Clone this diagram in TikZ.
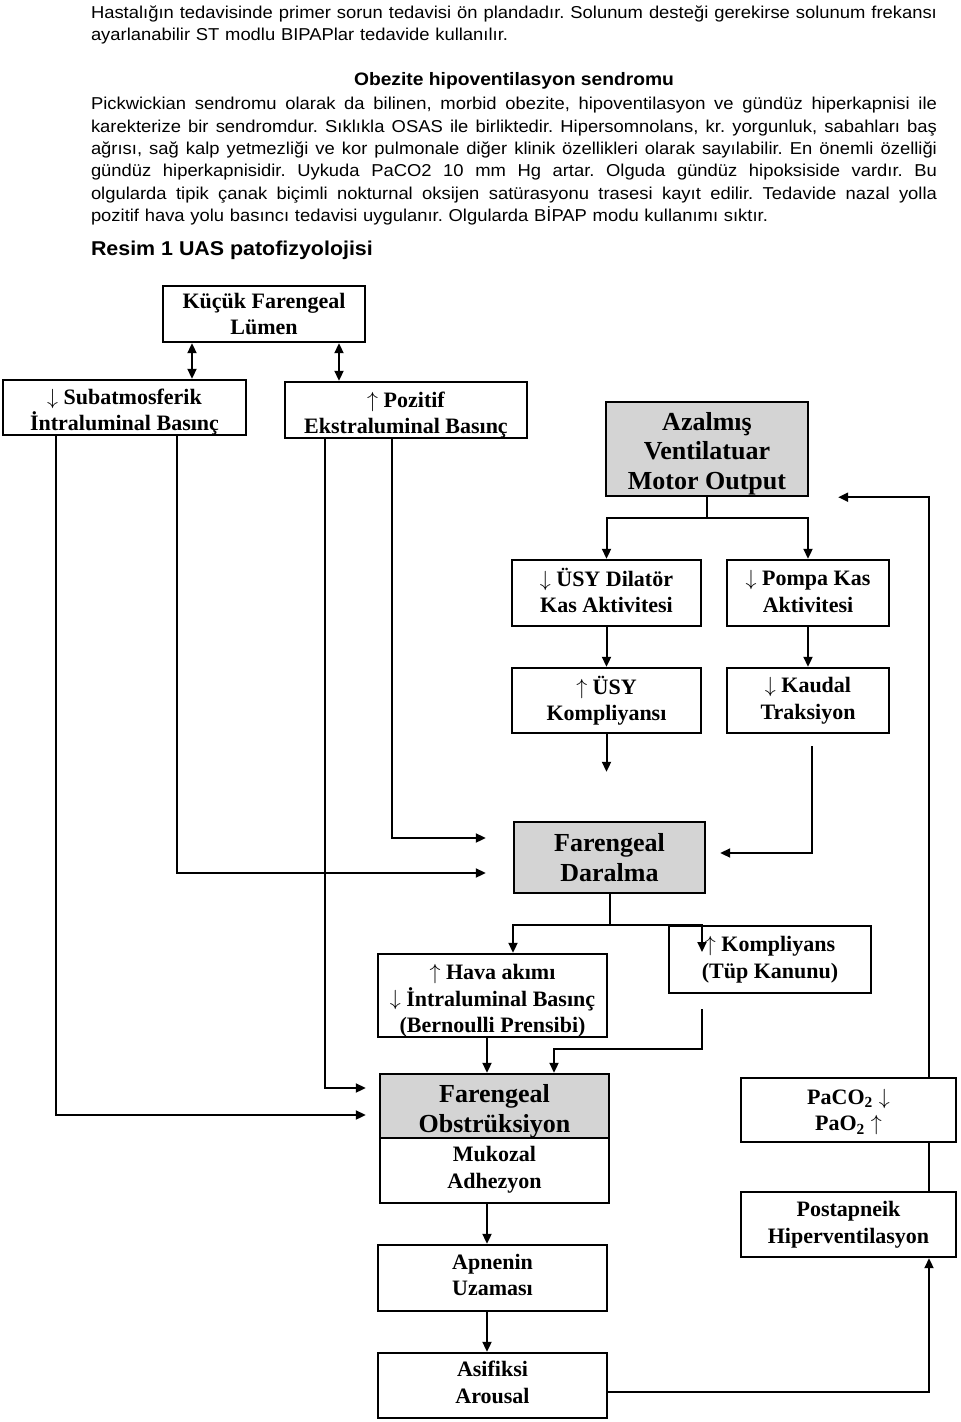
\documentclass[tikz,border=0pt]{standalone}
\usepackage{fontspec}
\setmainfont{Liberation Serif}
\newfontfamily\parafont[FakeStretch=1.07]{Liberation Sans}
\newcommand\parasetup{\parafont\fontsize{8.6}{11.15}\selectfont\frenchspacing}
\makeatletter
\def\jline#1{\leavevmode\hbox to 423pt{\jl@a#1 \@nil}}
\def\jl@a#1 #2\@nil{#1\ifx\relax#2\relax\else\hfill\jl@a#2\@nil\fi}
\makeatother
\usetikzlibrary{arrows.meta, positioning}

\begin{document}
\begin{tikzpicture}[x=0.5pt, y=-0.5pt, line width=1pt,
   >={Triangle[length=5pt,width=4.5pt]},
   wh/.style 2 args={minimum width=#1*0.5pt, minimum height=#2*0.5pt},
   box/.style={draw, line width=1.2pt, inner sep=0pt},
   grey/.style={box, fill=black!17},
   txt/.style={align=center, inner sep=0pt, font=\bfseries\fontsize{11}{13.25}\selectfont},
   big/.style={txt, font=\bfseries\fontsize{13}{14.75}\selectfont},
   tx/.style 2 args={label={[txt, yshift=#1]center:{#2}}},
   bigtx/.style 2 args={label={[big, yshift=#1]center:{#2}}},
   para/.style={anchor=base west, inner sep=0pt, text width=423pt, font=\parasetup}]
   \useasboundingbox (0,0) rectangle (960,1422);

   % text above the figure
   \node[para] (p1) at (90,18.5)
      {\jline{Hastalığın tedavisinde primer sorun tedavisi ön plandadır. Solunum desteği gerekirse solunum frekansı}\\
       ayarlanabilir ST modlu BIPAPlar tedavide kullanılır.};
   \node[anchor=base, inner sep=0pt, font=\parafont\bfseries\fontsize{9}{11}\selectfont] (baslik) at (514,86)
      {Obezite hipoventilasyon sendromu};
   \node[para] (p2) at (90,110)
      {\jline{Pickwickian sendromu olarak da bilinen, morbid obezite, hipoventilasyon ve gündüz hiperkapnisi ile}\\
       \jline{karekterize bir sendromdur. Sıklıkla OSAS ile birliktedir. Hipersomnolans, kr. yorgunluk, sabahları baş}\\
       \jline{ağrısı, sağ kalp yetmezliği ve kor pulmonale diğer klinik özellikleri olarak sayılabilir. En önemli özelliği}\\
       \jline{gündüz hiperkapnisidir. Uykuda PaCO2 10 mm Hg\ \ artar. Olguda gündüz hipoksiside vardır. Bu}\\
       \jline{olgularda tipik çanak biçimli nokturnal oksijen satürasyonu trasesi kayıt edilir. Tedavide nazal yolla}\\
       pozitif hava yolu basıncı tedavisi uygulanır. Olgularda BİPAP modu kullanımı sıktır.};
   \node[anchor=base west, inner sep=0pt, font=\parafont\bfseries\fontsize{10}{12}\selectfont] (resim) at (90,256)
      {Resim 1 UAS patofizyolojisi};

   % boxes
   \node[box, wh={202}{56}, tx={0pt}{Küçük Farengeal\\Lümen}] (kucuk) at (264,314) {};
   \node[box, wh={243}{55}, tx={-2.25pt}{$\downarrow$ Subatmosferik\\İntraluminal Basınç}] (subatm) at (124.5,407.5) {};
   \node[box, wh={242}{56}, tx={-2.5pt}{$\uparrow$ Pozitif\\Ekstraluminal Basınç}] (pozitif) at (406,410) {};
   \node[grey, wh={202}{94}, bigtx={-2.3pt}{Azalmış\\Ventilatuar\\Motor Output}] (azalmis) at (707,449) {};
   \node[box, wh={189}{66}, tx={1.25pt}{$\downarrow$ ÜSY Dilatör\\Kas Aktivitesi}] (dilator) at (606.5,593) {};
   \node[box, wh={162}{66}, tx={0.75pt}{$\downarrow$ Pompa Kas\\Aktivitesi}] (pompa) at (808,593) {};
   \node[box, wh={189}{65}, tx={0pt}{$\uparrow$ ÜSY\\Kompliyansı}] (usykomp) at (606.5,700.5) {};
   \node[box, wh={162}{65}, tx={0pt}{$\downarrow$ Kaudal\\Traksiyon}] (kaudal) at (808,700.5) {};
   \node[grey, wh={191}{71}, bigtx={0pt}{Farengeal\\Daralma}] (daralma) at (609.5,857.5) {};
   \node[box, wh={229}{83}, tx={-2.6pt}{$\uparrow$ Hava akımı\\$\downarrow$ İntraluminal Basınç\\(Bernoulli Prensibi)}] (hava) at (492.5,995.5) {};
   \node[box, wh={202}{67}, tx={0pt}{$\uparrow$ Kompliyans\\(Tüp Kanunu)}] (tup) at (770,959.5) {};
   \node[grey, wh={229}{64}, bigtx={-2.75pt}{Farengeal\\Obstrüksiyon}] (obstr) at (494.5,1106) {};
   \node[box, wh={229}{65}, below=-1.2pt of obstr, tx={0.5pt}{Mukozal\\Adhezyon}] (mukozal) {};
   \node[box, wh={229}{66}, tx={1.5pt}{Apnenin\\Uzaması}] (apne) at (492.5,1278) {};
   \node[box, wh={229}{65}, tx={1.5pt}{Asifiksi\\Arousal}] (asfiksi) at (492.5,1385.5) {};
   \node[box, wh={215}{64}, tx={-1pt}{PaCO\textsubscript{2} $\downarrow$\\PaO\textsubscript{2} $\uparrow$}] (gaz) at (848.5,1110) {};
   \node[box, wh={215}{65}, tx={0pt}{Postapneik\\Hiperventilasyon}] (postap) at (848.5,1224.5) {};

   % connectors
   \draw[<->] (kucuk.south -| 192,0) -- (subatm.north -| 192,0);
   \draw[<->] (kucuk.south -| 339,0) -- (pozitif.north -| 339,0);

   \draw[->, shorten >=6.5pt] (subatm.south -| 56,0) |- ([yshift=-4.5pt]obstr.west);
   \draw[->, shorten >=13.5pt] (subatm.south -| 177,0) |- ([yshift=-7.75pt]daralma.west);
   \draw[->, shorten >=6.5pt] (pozitif.south -| 325,0) |- ([yshift=9pt]obstr.west);
   \draw[->, shorten >=13.5pt] (pozitif.south -| 392,0) |- ([yshift=9.75pt]daralma.west);

   \draw (azalmis.south) -- ++(0,21) coordinate (split1);
   \draw[->] (split1) -| (dilator.north);
   \draw[->] (split1) -| (pompa.north);
   \draw[->] (dilator) -- (usykomp);
   \draw[->] (pompa) -- (kaudal);
   \draw[->, shorten >=24.5pt] (usykomp.south) -- (usykomp.south |- daralma.north);
   \draw[->, shorten <=6pt, shorten >=7pt] (kaudal.south -| 812,0) |- ([yshift=2.25pt]daralma.east);

   \draw (daralma.south) -- (daralma.south |- tup.north) coordinate (split2);
   \coordinate (tuptip) at (702,952);
   \draw[->] (split2) -| (hava.north -| 513,0);
   \draw[->] (split2) -| (tuptip);
   \draw[->, shorten <=7.5pt] (tup.south -| 702,0) -- ++(0,55) -| (obstr.north -| 554,0);
   \draw[->] (hava.south -| 487,0) -- (obstr.north -| 487,0);
   \draw[->] (mukozal.south -| 487,0) -- (apne.north -| 487,0);
   \draw[->] (apne.south -| 487,0) -- (asfiksi.north -| 487,0);

   \draw[->] ([yshift=-3.25pt]asfiksi.east) -| (postap.south -| 929,0);
   \draw (postap.north -| 929,0) -- (gaz.south -| 929,0);
   \draw[->, shorten >=14.5pt] (gaz.north -| 929,0) |- (azalmis.south east);
\end{tikzpicture}
\end{document}
